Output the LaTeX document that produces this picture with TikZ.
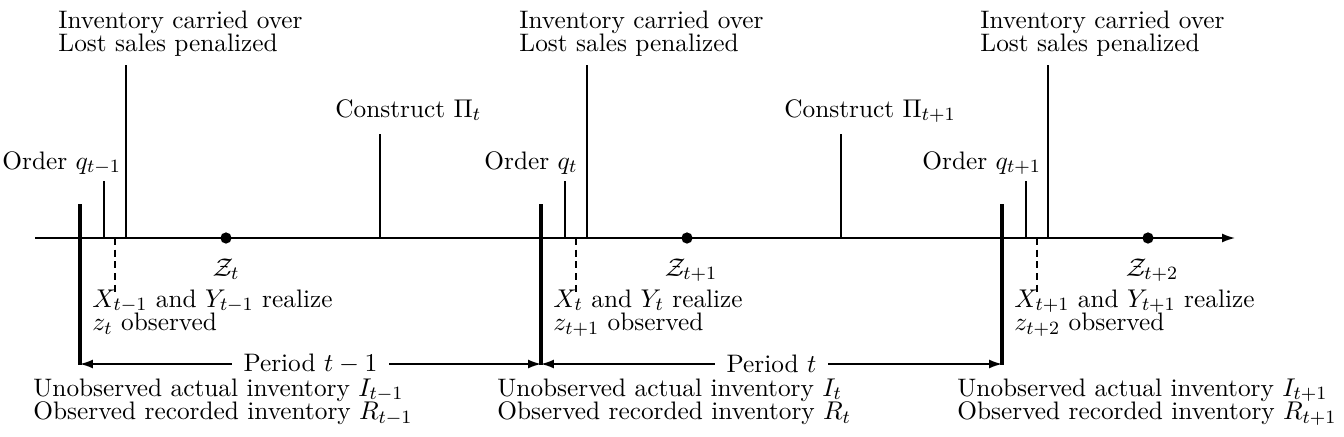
\documentclass[tikz,border=0pt]{standalone}
\usetikzlibrary{arrows.meta}
\newcommand{\twolines}[2]{\vtop{\baselineskip=9.9pt\lineskiplimit=-20pt\lineskip=0pt\hbox{\strut#1}\hbox{#2}}}
\begin{document}
\begin{tikzpicture}[x=0.427pt,y=-0.427pt,
  font=\fontsize{10.8}{13}\selectfont,
  lab/.style={inner sep=0pt, anchor=base west},
  zlab/.style={inner sep=0pt, anchor=base},
  tick/.style={line width=0.65pt},
  bound/.style={line width=1.3pt},
  dashtick/.style={line width=0.6pt, dash pattern=on 3pt off 2pt},
  dotmark/.style={circle, fill=black, inner sep=0pt, minimum size=4.8pt},
  axis/.style={line width=0.65pt, -{Latex[length=5.5pt,width=3.8pt]}},
  period/.style={line width=0.65pt, {Latex[length=5.5pt,width=3.8pt]}-{Latex[length=5.5pt,width=3.8pt]}}]
\useasboundingbox (0,0) rectangle (1344,436);
% axis
\coordinate (a0) at (35,238);
\coordinate (a1) at (1235,238);
\draw[axis] (a0) -- (a1);
% period structures
\foreach \i/\o in {0/0,1/461,2/922}{
  \coordinate (bt\i) at (80+\o,204);
  \coordinate (bb\i) at (80+\o,365);
  \coordinate (bm\i) at (80+\o,364);
  \draw[bound] (bt\i) -- (bb\i);
  \coordinate (ot\i) at (104+\o,181);
  \coordinate (ob\i) at (104+\o,238);
  \draw[tick] (ot\i) -- (ob\i);
  \coordinate (it\i) at (126+\o,65);
  \coordinate (ib\i) at (126+\o,238);
  \draw[tick] (it\i) -- (ib\i);
  \coordinate (dt\i) at (115+\o,238);
  \coordinate (db\i) at (115+\o,294);
  \draw[dashtick] (dt\i) -- (db\i);
  \node[dotmark] (z\i) at (226+\o,238) {};
}
\foreach \i/\o in {0/0,1/461}{
  \coordinate (ct\i) at (380+\o,134);
  \coordinate (cb\i) at (380+\o,238);
  \draw[tick] (ct\i) -- (cb\i);
}
% period arrows
\draw[period] (bm0) -- (bm1) node[midway, fill=white, inner xsep=5pt, inner ysep=0pt] (p0) {Period $t-1$};
\draw[period] (bm1) -- (bm2) node[midway, fill=white, inner xsep=5pt, inner ysep=0pt] (p1) {Period $t$};
% top labels
\node[lab] (inv0) at (58,28) {\twolines{Inventory carried over}{Lost sales penalized}};
\node[lab] (inv1) at (519,28) {\twolines{Inventory carried over}{Lost sales penalized}};
\node[lab] (inv2) at (980,28) {\twolines{Inventory carried over}{Lost sales penalized}};
\node[lab] (ord0) at (2,169) {Order $q_{t-1}$};
\node[lab] (ord1) at (484,169) {Order $q_{t}$};
\node[lab] (ord2) at (922,169) {Order $q_{t+1}$};
\node[lab] (con0) at (335,117) {Construct $\Pi_t$};
\node[lab] (con1) at (784,117) {Construct $\Pi_{t+1}$};
% z labels
\node[zlab] (zl0) at (226,276) {$\mathcal{Z}_t$};
\node[zlab] (zl1) at (691,276) {$\mathcal{Z}_{t+1}$};
\node[zlab] (zl2) at (1152,276) {$\mathcal{Z}_{t+2}$};
% realize labels
\node[lab] (x0) at (92,307) {\twolines{$X_{t-1}$ and $Y_{t-1}$ realize}{$z_t$ observed}};
\node[lab] (x1) at (553,307) {\twolines{$X_{t}$ and $Y_{t}$ realize}{$z_{t+1}$ observed}};
\node[lab] (x2) at (1014,307) {\twolines{$X_{t+1}$ and $Y_{t+1}$ realize}{$z_{t+2}$ observed}};
% bottom labels
\node[lab] (u0) at (33,396) {\twolines{Unobserved actual inventory $I_{t-1}$}{Observed recorded inventory $R_{t-1}$}};
\node[lab] (u1) at (497,396) {\twolines{Unobserved actual inventory $I_{t}$}{Observed recorded inventory $R_{t}$}};
\node[lab] (u2) at (957,396) {\twolines{Unobserved actual inventory $I_{t+1}$}{Observed recorded inventory $R_{t+1}$}};
\end{tikzpicture}
\end{document}
